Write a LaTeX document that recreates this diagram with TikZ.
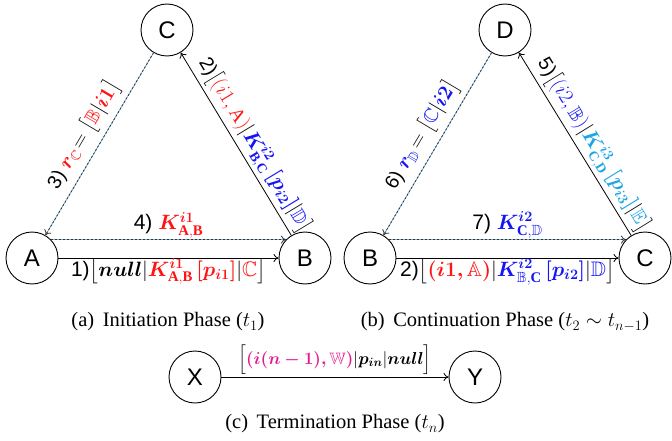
\documentclass[tikz,border=0pt]{standalone}
\usepackage{amsmath,amssymb}
\usepackage{fontspec}
\setmainfont{Liberation Serif}
\setsansfont{Liberation Sans}
\usepackage{bm}
\usetikzlibrary{arrows.meta}
\definecolor{cred}{RGB}{255,20,20}
\definecolor{cblue}{RGB}{20,20,245}
\definecolor{ccyan}{RGB}{30,165,230}
\definecolor{cmag}{RGB}{230,25,140}
\definecolor{dline}{RGB}{120,175,215}
\newcommand\colR[1]{{\color{cred}#1}}
\newcommand\colB[1]{{\color{cblue}#1}}
\newcommand\colC[1]{{\color{ccyan}#1}}
\newcommand\colM[1]{{\color{cmag}#1}}
\tikzset{
  party/.style={circle, draw, line width=0.9pt, minimum size=52pt, inner sep=0pt,
    font=\sffamily\fontsize{24}{24}\selectfont},
  msg/.style={-{To[length=5pt,width=8pt]}, line width=0.8pt},
  rep/.style={-{To[length=5pt,width=8pt]}, line width=0.8pt, draw=black!80,
    dash pattern=on 2pt off 2pt,
    preaction={draw=dline, solid, -, line width=0.8pt}},
  lab/.style={font=\sffamily\fontsize{21}{21}\selectfont, inner sep=2pt},
  slab/.style={font=\sffamily\fontsize{19.5}{19.5}\selectfont, inner sep=2pt, sloped, above},
  captext/.style={font=\fontsize{20.5}{20.5}\selectfont, inner sep=0pt}
}
\begin{document}
\begin{tikzpicture}[x=1pt,y=-1pt]
\useasboundingbox (0,0) rectangle (672,441);
% (a)
\node[party] (A)  at (32,258) {A};
\node[party] (B1) at (305,258) {B};
\node[party] (C1) at (167,30) {C};
\draw[rep] (C1) -- node[slab, pos=0.5, inner sep=5pt]
  {3) $\colR{\bm{r}_{\mathbb{C}}}\!= \bigl[\colR{\mathbb{B}}|\colR{\bm{i1}}\bigr]$} (A);
\draw[msg] (B1) -- node[slab, pos=0.45]
  {2)$\bigl[\colR{(i1,\mathrm{A})}|\colB{\bm{K}^{\bm{i2}}_{\mathbf{B},\mathbf{C}}\,\bm{[p_{i2}]}}|\colB{\mathbb{D}}\bigr]$} (C1);
\draw[rep] (A.44) -- node[lab, above, inner sep=1pt]
  {4) $\colR{\bm{K}^{\bm{i1}}_{\mathbf{A},\mathbf{B}}}$} (B1.136);
\draw[msg] (A) -- node[lab, below, yshift=2pt]
  {1)$\bigl[\bm{null}|\colR{\bm{K}^{\bm{i1}}_{\mathbf{A},\mathbf{B}}\,\bm{[p_{i1}]}}|\colR{\mathbb{C}}\bigr]$} (B1);
\node[captext] (capa) at (168,322) {(a)\, Initiation Phase ($t_1$)};
% (b)
\node[party] (B2) at (370,258) {B};
\node[party] (C2) at (645,258) {C};
\node[party] (D2) at (505,30) {D};
\draw[rep] (D2) -- node[slab, pos=0.5, inner sep=5pt]
  {6) $\colB{\bm{r}_{\mathbb{D}}}\!= \bigl[\colB{\mathbb{C}}|\colB{\bm{i2}}\bigr]$} (B2);
\draw[msg] (C2) -- node[slab, pos=0.45]
  {5)$\bigl[\colB{(i2,\mathbb{B})}|\colC{\bm{K}^{\bm{i3}}_{\mathbf{C},\mathbf{D}}\,\bm{[p_{i3}]}}|\colC{\mathbb{E}}\bigr]$} (D2);
\draw[rep] (B2.44) -- node[lab, above, inner sep=1pt]
  {7) $\colB{\bm{K}^{\bm{i2}}_{\mathbf{C},\mathbb{D}}}$} (C2.136);
\draw[msg] (B2) -- node[lab, below, yshift=2pt]
  {2)$\bigl[\colR{\bm{(i1,\mathbb{A})}}|\colB{\bm{K}^{\bm{i2}}_{\mathbb{B},\mathbf{C}}\,\bm{[p_{i2}]}}|\colB{\mathbb{D}}\bigr]$} (C2);
\node[captext] (capb) at (505,322) {(b)\, Continuation Phase ($t_2\sim t_{n-1}$)};
% (c)
\node[party] (X) at (195,377) {X};
\node[party] (Y) at (475,377) {Y};
\draw[msg] (X) -- node[lab, above, font=\sffamily\fontsize{16.5}{16.5}\selectfont, inner sep=1pt]
  {$\Big[\colM{\bm{(i(n-1),\mathbb{W})}}|\bm{p_{in}}|\bm{null}\Big]$} (Y);
\node[captext] (capc) at (335,424) {(c)\, Termination Phase ($t_n$)};
\end{tikzpicture}
\end{document}
